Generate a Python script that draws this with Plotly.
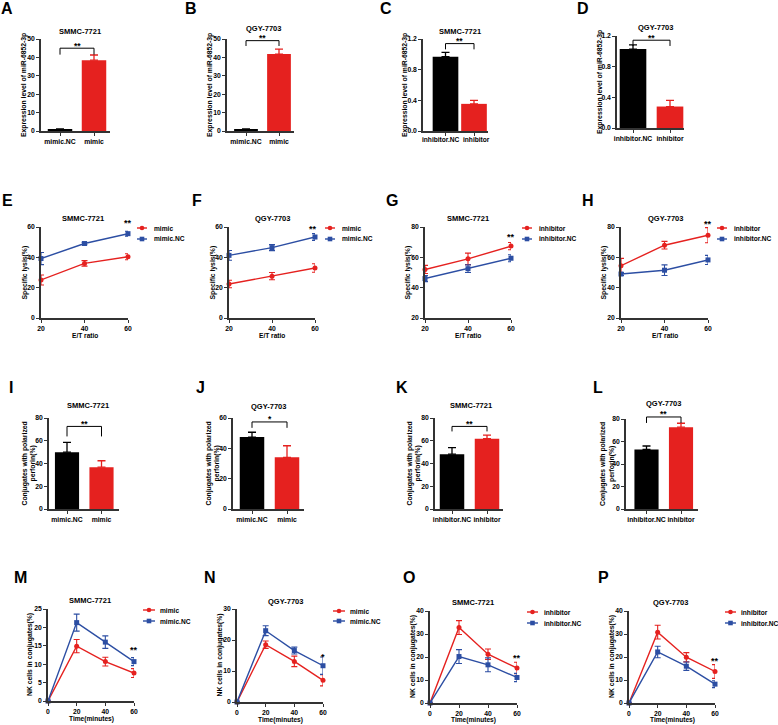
import plotly.graph_objects as go

# ---------------- data ----------------
cats_mimic = ["mimic.NC", "mimic"]
cats_inh = ["inhibitor.NC", "inhibitor"]

A_vals = [1.0, 38.5]
A_err = [0.15, 2.8]
B_vals = [1.0, 41.8]
B_err = [0.15, 2.7]
C_vals = [0.97, 0.354]
C_err = [0.055, 0.045]
D_vals = [1.03, 0.28]
D_err = [0.055, 0.08]

et_ratio = [20, 40, 60]
E_mimic = [25.1, 36.0, 40.4]
E_mimic_err = [3.3, 1.8, 2.0]
E_mimicNC = [39.2, 49.1, 55.6]
E_mimicNC_err = [4.0, 0.8, 1.6]
F_mimic = [22.4, 27.6, 33.0]
F_mimic_err = [2.5, 2.4, 2.8]
F_mimicNC = [41.3, 46.4, 53.4]
F_mimicNC_err = [3.2, 2.0, 2.2]
G_inh = [52.0, 59.0, 67.4]
G_inh_err = [2.7, 3.8, 2.4]
G_inhNC = [46.0, 52.5, 59.4]
G_inhNC_err = [2.0, 2.5, 2.3]
H_inh = [54.5, 68.0, 74.6]
H_inh_err = [4.8, 2.5, 5.0]
H_inhNC = [49.0, 51.5, 58.3]
H_inhNC_err = [1.0, 3.5, 3.0]

I_vals = [50.0, 36.8]
I_err = [8.5, 5.6]
J_vals = [47.4, 34.1]
J_err = [3.2, 7.6]
K_vals = [48.2, 61.8]
K_err = [5.8, 3.2]
L_vals = [53.0, 72.7]
L_err = [3.0, 3.5]

time_min = [0, 20, 40, 60]
M_mimic = [0, 14.9, 10.7, 7.6]
M_mimic_err = [0, 1.8, 1.2, 1.2]
M_mimicNC = [0, 21.3, 16.0, 10.7]
M_mimicNC_err = [0, 2.3, 1.7, 1.1]
N_mimic = [0, 18.5, 13.1, 7.0]
N_mimic_err = [0, 1.2, 1.7, 1.8]
N_mimicNC = [0, 23.0, 16.6, 11.7]
N_mimicNC_err = [0, 1.6, 1.1, 2.8]
O_inh = [0, 32.8, 21.2, 15.2]
O_inh_err = [0, 3.0, 2.3, 2.5]
O_inhNC = [0, 20.2, 16.6, 11.1]
O_inhNC_err = [0, 3.0, 3.0, 1.8]
P_inh = [0, 30.8, 19.9, 13.7]
P_inh_err = [0, 3.0, 2.0, 3.0]
P_inhNC = [0, 22.2, 16.0, 8.2]
P_inhNC_err = [0, 2.5, 1.8, 1.5]

# ---------------- style ----------------
W, H = 778, 725
FONT = "Liberation Sans, Arial, Helvetica, sans-serif"
RED = "#E5211F"
BLUE = "#2C4EA3"
BLACK = "#000000"
AX = "#333333"


def PX(px):
    return px / W


def PY(py):
    return 1 - py / H


fig = go.Figure()
annotations = []
shapes = []
layout_axes = {}


def akey(i, a):
    return a + "axis" + ("" if i == 1 else str(i))


def aref(i, a):
    return a + ("" if i == 1 else str(i))


def base_axis():
    return dict(showline=True, linecolor=AX, linewidth=1.5, ticks="outside",
                ticklen=3, tickwidth=1.2, tickcolor=AX, showgrid=False,
                zeroline=False, fixedrange=True, automargin=False, tickangle=0,
                tickfont=dict(family=FONT, size=6.8, color="black", weight="bold"))


def text(px, py, s, size=8, angle=0, xanchor="center", yanchor="middle"):
    annotations.append(dict(x=PX(px), y=PY(py), xref="paper", yref="paper",
                            text=s, showarrow=False, textangle=angle,
                            xanchor=xanchor, yanchor=yanchor,
                            font=dict(family=FONT, size=size, color="black", weight="bold")))


def set_axes(i, box, xcfg, ycfg):
    x0, x1, y0, y1 = box
    xa = base_axis()
    xa.update(domain=[PX(x0), PX(x1)], anchor=aref(i, "y"))
    xa.update(xcfg)
    ya = base_axis()
    ya.update(domain=[PY(y1), PY(y0)], anchor=aref(i, "x"))
    ya.update(ycfg)
    layout_axes[akey(i, "x")] = xa
    layout_axes[akey(i, "y")] = ya


# ---------------- bar panels ----------------
# lblx: when set, category labels are written as separate texts at these x pixels
bar_panels = [
    dict(i=1, cats=cats_mimic, vals=A_vals, errs=A_err, box=(41, 110, 39, 131), yr=[0, 50], dt=10,
         c=(60, 94), bw=0.72, br=(45, 41.5), sig="**", fmt="", title=("SMMC-7721", 80, 31),
         ylab=("Expression level of miR-6852-3p", 24), letter=("A", 7, 8.5), lblx=None),
    dict(i=2, cats=cats_mimic, vals=B_vals, errs=B_err, box=(227, 294, 39, 131), yr=[0, 50], dt=10,
         c=(246, 279), bw=0.72, br=(49.1, 46.2), sig="**", fmt="", title=("QGY-7703", 263, 28.5),
         ylab=("Expression level of miR-6852-3p", 210), letter=("B", 191, 8.5), lblx=None),
    dict(i=3, cats=cats_inh, vals=C_vals, errs=C_err, box=(423, 488, 39, 131), yr=[0, 1.2], dt=0.4,
         c=(445.5, 474), bw=0.9, br=(1.14, 1.065), sig="**", fmt=".1f", title=("SMMC-7721", 460, 31.5),
         ylab=("Expression level of miR-6852-3p", 405), letter=("C", 386, 8.5), lblx=(441, 476.5)),
    dict(i=4, cats=cats_inh, vals=D_vals, errs=D_err, box=(617, 684, 36, 128), yr=[0, 1.2], dt=0.4,
         c=(633, 670), bw=0.72, br=(1.145, 1.07), sig="**", fmt=".1f", title=("QGY-7703", 655, 27.5),
         ylab=("Expression level of miR-6852-3p", 600), letter=("D", 583, 9), lblx=None),
    dict(i=9, cats=cats_mimic, vals=I_vals, errs=I_err, box=(49, 119, 418, 509), yr=[0, 80], dt=20,
         c=(67, 101.5), bw=0.7, br=(72.6, 63.8), sig="**", fmt="", title=("SMMC-7721", 88, 405),
         ylab=("Conjugates with polarized<br>perforin(%)", 29), letter=("I", 11, 387), lblx=None),
    dict(i=10, cats=cats_mimic, vals=J_vals, errs=J_err, box=(233, 304, 418, 509), yr=[0, 60], dt=20,
         c=(252, 287), bw=0.7, br=(57.4, 53.5), sig="*", fmt="", title=("QGY-7703", 268, 406),
         ylab=("Conjugates with polarized<br>perforin(%)", 213), letter=("J", 200, 387), lblx=None),
    dict(i=11, cats=cats_inh, vals=K_vals, errs=K_err, box=(435, 503, 418, 509), yr=[0, 80], dt=20,
         c=(452, 487), bw=0.7, br=(72.6, 68.2), sig="**", fmt="", title=("SMMC-7721", 471, 405),
         ylab=("Conjugates with polarized<br>perforin(%)", 414), letter=("K", 402, 387), lblx=None),
    dict(i=12, cats=cats_inh, vals=L_vals, errs=L_err, box=(626, 698, 419, 509), yr=[0, 80], dt=20,
         c=(646.5, 681), bw=0.7, br=(81.8, 76.5), sig="**", fmt="", title=("QGY-7703", 663, 404),
         ylab=("Conjugates with polarized<br>perforin(%)", 607), letter=("L", 598, 387), lblx=None),
]


def yval_to_px(box, yr, v):
    x0, x1, y0, y1 = box
    return y1 - (v - yr[0]) / (yr[1] - yr[0]) * (y1 - y0)


for p in bar_panels:
    i = p["i"]
    x0, x1, y0, y1 = p["box"]
    c0, c1 = p["c"]
    unit = c1 - c0
    r0 = (x0 - c0) / unit
    r1 = 1 + (x1 - c1) / unit
    xcfg = dict(type="category", categoryorder="array", categoryarray=p["cats"], range=[r0, r1])
    if p["lblx"] is not None:
        xcfg["showticklabels"] = False
        for k in range(2):
            text(p["lblx"][k], y1 + 8, p["cats"][k], size=6.6)
    set_axes(i, p["box"], xcfg,
             dict(range=p["yr"], dtick=p["dt"], tick0=0, tickformat=p["fmt"]))
    colors = [BLACK, RED]
    for k in range(2):
        fig.add_trace(go.Bar(
            x=[p["cats"][k]], y=[p["vals"][k]], width=p["bw"],
            marker=dict(color=colors[k], line=dict(width=0)),
            error_y=dict(type="data", array=[p["errs"][k]], arrayminus=[0], symmetric=False,
                         color=colors[k], thickness=1.3, width=4),
            xaxis=aref(i, "x"), yaxis=aref(i, "y"), showlegend=False, hoverinfo="skip"))
    # significance bracket (paper coords, not clipped)
    by, leg = p["br"]
    byp = yval_to_px(p["box"], p["yr"], by)
    legp = yval_to_px(p["box"], p["yr"], leg)
    shapes.append(dict(type="path", xref="paper", yref="paper",
                       path=(f"M {PX(c0)} {PY(legp)} L {PX(c0)} {PY(byp)} "
                             f"L {PX(c1)} {PY(byp)} L {PX(c1)} {PY(legp)}"),
                       line=dict(color="black", width=1)))
    text((c0 + c1) / 2, byp - 2.5, p["sig"], size=8.5)
    t, tx, ty = p["title"]
    text(tx, ty, t, size=7.5)
    yl, yx = p["ylab"]
    text(yx, (y0 + y1) / 2, yl, size=6.8, angle=-90)
    L, lx, ly = p["letter"]
    text(lx, ly, L, size=16)

# ---------------- line panels ----------------
line_panels = [
    dict(i=5, x=et_ratio, xr=[20, 60], box=(41, 128, 227, 318), yr=[0, 60], dt=20,
         s=[(E_mimic, E_mimic_err, "mimic"), (E_mimicNC, E_mimicNC_err, "mimic.NC")],
         leg=(137, 147, 152, 228, 239), sig=("**", 128, 223), title=("SMMC-7721", 83, 218),
         ylab=("Specific lysis(%)", 24), xlab=("E/T ratio", 335), letter=("E", 8, 200)),
    dict(i=6, x=et_ratio, xr=[20, 60], box=(229, 315, 227, 318), yr=[0, 60], dt=20,
         s=[(F_mimic, F_mimic_err, "mimic"), (F_mimicNC, F_mimicNC_err, "mimic.NC")],
         leg=(325, 335, 340, 228, 239), sig=("**", 313, 229), title=("QGY-7703", 272, 218),
         ylab=("Specific lysis(%)", 212), xlab=("E/T ratio", 335), letter=("F", 197, 200)),
    dict(i=7, x=et_ratio, xr=[20, 60], box=(425, 511, 227, 318), yr=[20, 80], dt=20,
         s=[(G_inh, G_inh_err, "inhibitor"), (G_inhNC, G_inhNC_err, "inhibitor.NC")],
         leg=(522, 532, 537, 228, 239), sig=("**", 511, 237), title=("SMMC-7721", 468, 218),
         ylab=("Specific lysis(%)", 407), xlab=("E/T ratio", 335), letter=("G", 392, 200)),
    dict(i=8, x=et_ratio, xr=[20, 60], box=(621, 708, 227, 318), yr=[20, 80], dt=20,
         s=[(H_inh, H_inh_err, "inhibitor"), (H_inhNC, H_inhNC_err, "inhibitor.NC")],
         leg=(717, 727, 732, 228, 239), sig=("**", 708, 224), title=("QGY-7703", 665, 218),
         ylab=("Specific lysis(%)", 603), xlab=("E/T ratio", 335), letter=("H", 588, 200)),
    dict(i=13, x=time_min, xr=[0, 60], box=(48, 134, 609, 701), yr=[0, 25], dt=5,
         s=[(M_mimic, M_mimic_err, "mimic"), (M_mimicNC, M_mimicNC_err, "mimic.NC")],
         leg=(143, 155, 158, 610, 621), sig=("**", 134, 650), title=("SMMC-7721", 90, 600),
         ylab=("NK cells in conjugates(%)", 30), xlab=("Time(minutes)", 719), letter=("M", 20, 577)),
    dict(i=14, x=time_min, xr=[0, 60], box=(237, 323, 609, 702), yr=[0, 30], dt=10,
         s=[(N_mimic, N_mimic_err, "mimic"), (N_mimicNC, N_mimicNC_err, "mimic.NC")],
         leg=(333, 345, 348, 611, 621), sig=("*", 323, 657), title=("QGY-7703", 285, 601),
         ylab=("NK cells in conjugates(%)", 219), xlab=("Time(minutes)", 719.5), letter=("N", 210, 577)),
    dict(i=15, x=time_min, xr=[0, 60], box=(430, 517, 611, 703), yr=[0, 40], dt=10,
         s=[(O_inh, O_inh_err, "inhibitor"), (O_inhNC, O_inhNC_err, "inhibitor.NC")],
         leg=(527, 538, 542, 612, 623), sig=("**", 517, 658), title=("SMMC-7721", 473, 602),
         ylab=("NK cells in conjugates(%)", 413), xlab=("Time(minutes)", 720), letter=("O", 409, 577)),
    dict(i=16, x=time_min, xr=[0, 60], box=(629, 715, 611, 703), yr=[0, 40], dt=10,
         s=[(P_inh, P_inh_err, "inhibitor"), (P_inhNC, P_inhNC_err, "inhibitor.NC")],
         leg=(725, 736, 739, 612, 623), sig=("**", 715, 661), title=("QGY-7703", 670, 602),
         ylab=("NK cells in conjugates(%)", 612), xlab=("Time(minutes)", 720), letter=("P", 603, 577)),
]

for p in line_panels:
    i = p["i"]
    x0, x1, y0, y1 = p["box"]
    set_axes(i, p["box"],
             dict(range=p["xr"], dtick=20, tick0=0),
             dict(range=p["yr"], dtick=p["dt"], tick0=0))
    styles = [(RED, "circle"), (BLUE, "square")]
    for k, (vals, errs, name) in enumerate(p["s"]):
        col, sym = styles[k]
        fig.add_trace(go.Scatter(
            x=p["x"], y=vals, mode="lines+markers", cliponaxis=False,
            line=dict(color=col, width=1.4),
            marker=dict(color=col, symbol=sym, size=5),
            error_y=dict(type="data", array=errs, color=col, thickness=1.1, width=3),
            xaxis=aref(i, "x"), yaxis=aref(i, "y"), showlegend=False, hoverinfo="skip"))
        # legend entry drawn as layout decoration
        lx0, lx1, tx, ya, yb = p["leg"]
        ly = ya if k == 0 else yb
        shapes.append(dict(type="line", xref="paper", yref="paper",
                           x0=PX(lx0), x1=PX(lx1), y0=PY(ly), y1=PY(ly),
                           line=dict(color=col, width=1.4)))
        cx = (lx0 + lx1) / 2
        r = 2.3
        shapes.append(dict(type="circle" if sym == "circle" else "rect", xref="paper", yref="paper",
                           x0=PX(cx - r), x1=PX(cx + r), y0=PY(ly + r), y1=PY(ly - r),
                           fillcolor=col, line=dict(color=col, width=0)))
        text(tx, ly, name, size=6.6, xanchor="left")
    s, sx, sy = p["sig"]
    text(sx, sy, s, size=9)
    t, tx_, ty_ = p["title"]
    text(tx_, ty_, t, size=7.5)
    yl, yx = p["ylab"]
    text(yx, (y0 + y1) / 2, yl, size=6.8, angle=-90)
    xl, xy = p["xlab"]
    text((x0 + x1) / 2, xy, xl, size=6.6)
    L, lx, ly = p["letter"]
    text(lx, ly, L, size=16)

fig.update_layout(
    template="none",
    width=W, height=H, margin=dict(l=0, r=0, t=0, b=0, pad=0),
    paper_bgcolor="white", plot_bgcolor="white",
    showlegend=False, annotations=annotations, shapes=shapes,
    font=dict(family=FONT, size=8, color="black"),
    **layout_axes,
)

fig.write_html("out.html", config={"displayModeBar": False},
               post_script="document.body.style.margin='0';document.body.style.overflow='hidden';")
